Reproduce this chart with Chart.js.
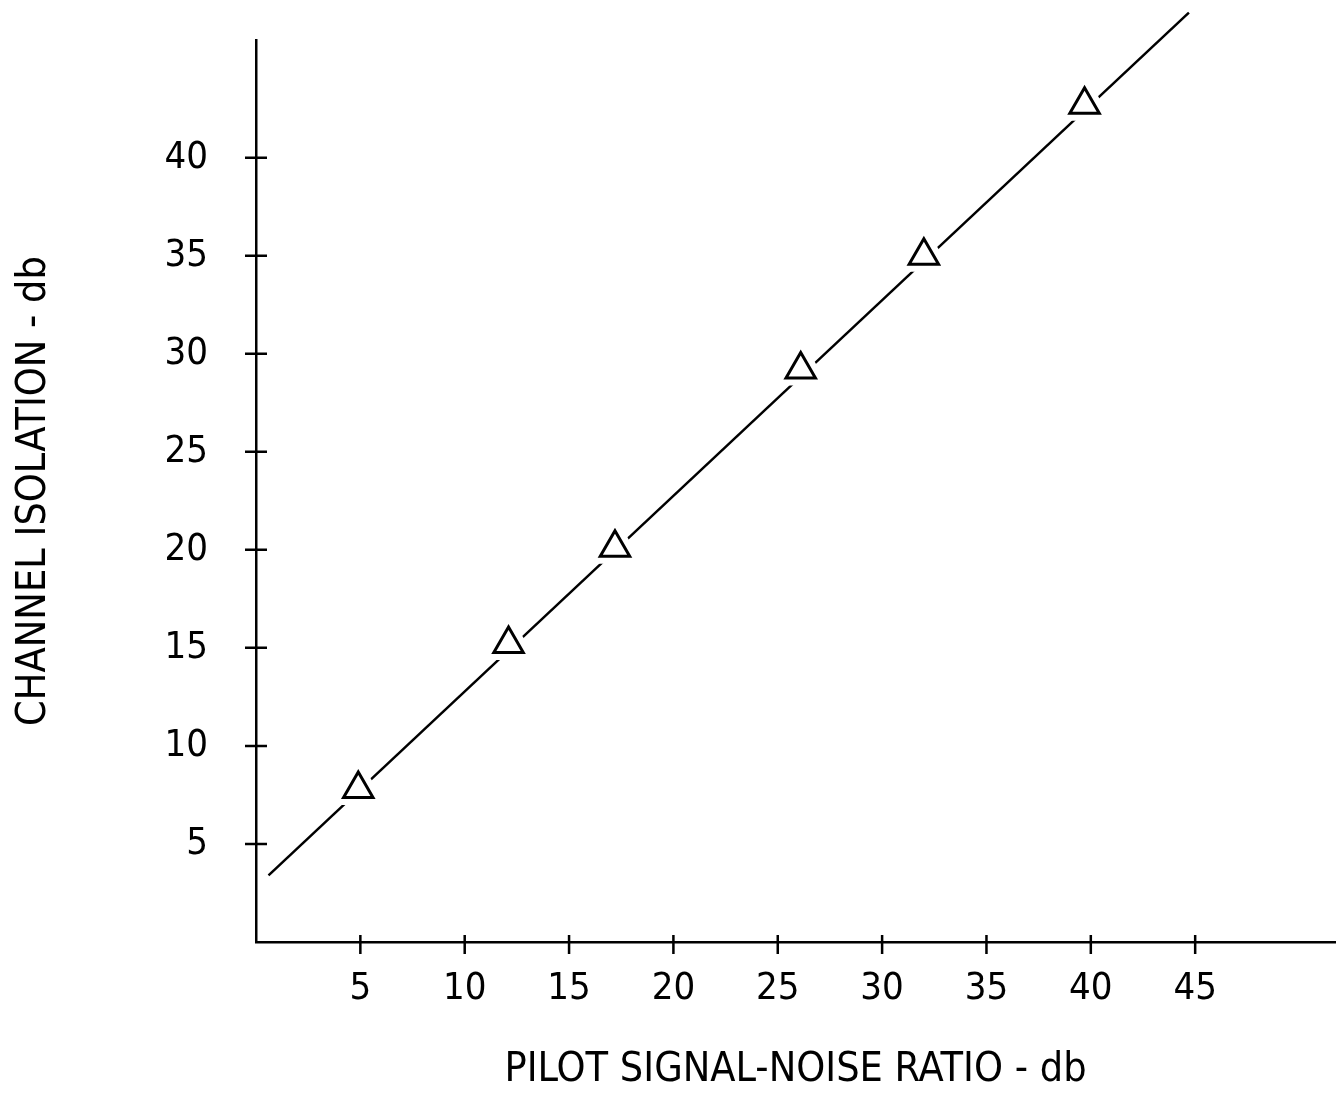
<!DOCTYPE html>
<html>
<head>
<meta charset="utf-8">
<script src="https://cdn.jsdelivr.net/npm/chart.js@4/dist/chart.umd.min.js"></script>
<style>
  html, body { margin: 0; padding: 0; background: #fff; overflow: hidden; }
  canvas { display: block; }
</style>
</head>
<body>
<canvas id="isoChart" width="1344" height="1095"></canvas>
<script>
// measured points (triangles)
const snrDb = [4.9, 12.1, 17.2, 26.1, 32.0, 39.7];
const isolationDb = [7.8, 15.2, 20.1, 29.2, 35.0, 42.7];

// straight fitted line, two ends
const fitSnr = [0.6, 44.7];
const fitIsolation = [3.4, 47.4];

// tick labels
const xTickValues = [5, 10, 15, 20, 25, 30, 35, 40, 45];
const yTickValues = [5, 10, 15, 20, 25, 30, 35, 40];

const fontFamily = "'DejaVu Sans Condensed', 'DejaVu Sans', sans-serif";

function pairs(xs, ys) {
    return xs.map((x, i) => ({ x: x, y: ys[i] }));
}

// small cross ticks through both axes
const crossTicks = {
    id: 'crossTicks',
    afterDraw(chart) {
        const ctx = chart.ctx;
        const area = chart.chartArea;
        const xs = chart.scales.x;
        const ys = chart.scales.y;
        ctx.save();
        ctx.strokeStyle = '#000';
        ctx.lineWidth = 2.5;
        ctx.beginPath();
        xTickValues.forEach(v => {
            const px = xs.getPixelForValue(v);
            ctx.moveTo(px, area.bottom - 7);
            ctx.lineTo(px, area.bottom + 12);
        });
        yTickValues.forEach(v => {
            const py = ys.getPixelForValue(v);
            ctx.moveTo(area.left - 11, py);
            ctx.lineTo(area.left + 11, py);
        });
        ctx.stroke();
        ctx.restore();
    }
};

const ctx = document.getElementById('isoChart').getContext('2d');
const isoChart = new Chart(ctx, {
    type: 'scatter',
    data: {
        datasets: [
            {
                label: 'measured',
                data: pairs(snrDb, isolationDb),
                pointStyle: 'triangle',
                pointRadius: 17,
                pointHoverRadius: 17,
                pointBackgroundColor: '#fff',
                pointBorderColor: '#000',
                pointBorderWidth: 3,
                showLine: false,
                order: 0
            },
            {
                label: 'gap',
                data: pairs(snrDb, isolationDb),
                pointStyle: 'triangle',
                pointRadius: 32,
                pointHoverRadius: 32,
                pointBackgroundColor: '#fff',
                pointBorderWidth: 0,
                showLine: false,
                order: 1
            },
            {
                label: 'fit',
                data: pairs(fitSnr, fitIsolation),
                showLine: true,
                borderColor: '#000',
                borderWidth: 2.5,
                pointRadius: 0,
                clip: false,
                order: 2
            }
        ]
    },
    options: {
        responsive: false,
        animation: false,
        events: [],
        layout: {
            autoPadding: false,
            padding: { top: 40, right: 9, left: 0, bottom: 0 }
        },
        plugins: {
            legend: { display: false },
            tooltip: { enabled: false }
        },
        scales: {
            x: {
                type: 'linear',
                min: 0,
                max: 51.7,
                afterFit: s => {
                    s.height = 153;
                    s.paddingLeft = 0;
                    s.paddingRight = 0;
                },
                afterBuildTicks: s => { s.ticks = xTickValues.map(v => ({ value: v })); },
                grid: { display: false, drawTicks: false },
                border: { display: true, color: '#000', width: 2.5 },
                ticks: {
                    color: '#000',
                    padding: 24,
                    maxRotation: 0,
                    autoSkip: false,
                    font: { family: fontFamily, size: 38 }
                },
                title: {
                    display: true,
                    text: 'PILOT SIGNAL-NOISE RATIO - db',
                    color: '#000',
                    padding: { top: 0, bottom: 0 },
                    font: { family: fontFamily, size: 41 }
                }
            },
            y: {
                type: 'linear',
                min: 0,
                max: 46,
                afterFit: s => {
                    s.width = 256;
                    s.paddingTop = 0;
                    s.paddingBottom = 0;
                },
                afterBuildTicks: s => { s.ticks = yTickValues.map(v => ({ value: v })); },
                grid: { display: false, drawTicks: false },
                border: { display: true, color: '#000', width: 2.5 },
                ticks: {
                    color: '#000',
                    padding: 48,
                    autoSkip: false,
                    font: { family: fontFamily, size: 38 }
                },
                title: {
                    display: true,
                    text: 'CHANNEL ISOLATION - db',
                    color: '#000',
                    padding: { top: 10, bottom: 0 },
                    font: { family: fontFamily, size: 41 }
                }
            }
        }
    },
    plugins: [crossTicks]
});
</script>
</body>
</html>
